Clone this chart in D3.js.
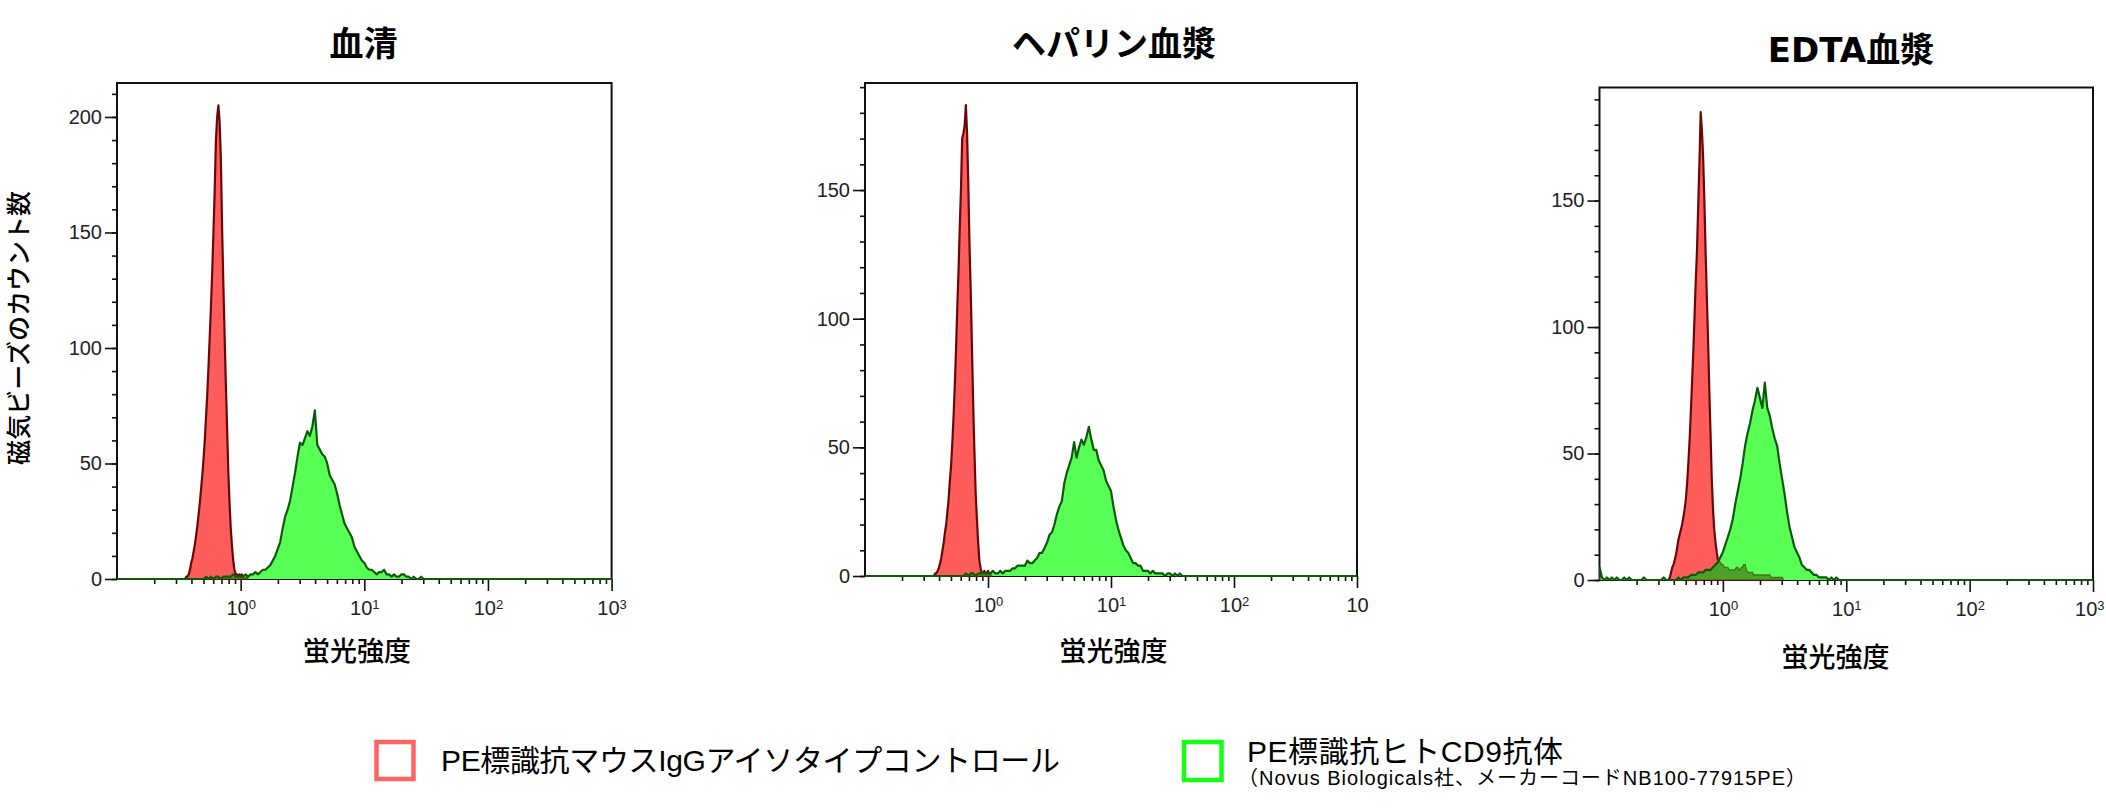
<!DOCTYPE html>
<html>
<head>
<meta charset="utf-8">
<script src="https://cdn.jsdelivr.net/npm/d3@7"></script>
<style>
body { margin: 0; background: #fff; }
svg { display: block; }
</style>
</head>
<body>
<script>
// panel titles and axis settings
var titles = ['血清', 'ヘパリン血漿', 'EDTA血漿'];
var yMax = [214.7, 191.6, 194.7];
var yLabelTicks = [[0, 50, 100, 150, 200], [0, 50, 100, 150], [0, 50, 100, 150]];
var xMajor = [1, 10, 100, 1000];
var xExp = [['0', '1', '2', '3'], ['0', '1', '2', ''], ['0', '1', '2', '3']];
var legendLabels = ['PE標識抗マウスIgGアイソタイプコントロール', 'PE標識抗ヒトCD9抗体'];
var legendNote = '（Novus Biologicals社、メーカーコードNB100-77915PE）';

// histogram channels: log10 of the first bin and bin width (decades)
var isoStep = 0.01;
var cd9Step = 0.02;
var isoStart = [-0.46, -0.45, -0.44];
var cd9Start = [-0.30, -0.20, -1.00];

// isotype control counts
var serumIso = [0, 0, 1, 1, 2, 4, 7, 9, 12, 15,
    19, 23, 28, 33, 39, 45, 52, 60, 70, 80,
    92, 105, 118, 133, 150, 168, 190, 200, 205, 198,
    182, 152, 128, 106, 85, 66, 47, 33, 22, 14,
    8, 4, 2, 2, 1, 2, 1, 2, 1, 1,
    0, 1, 0];
var heparinIso = [0, 0, 1, 1, 2, 3, 5, 7, 10, 13,
    17, 20, 25, 30, 37, 43, 52, 62, 74, 88,
    104, 118, 135, 150, 170, 172, 175, 183, 172, 152,
    128, 110, 88, 66, 48, 32, 22, 13, 6, 3,
    1, 1, 2, 1, 1, 2, 1, 1, 0];
var edtaIso = [0, 1, 3, 5, 6, 8, 10, 13, 16, 18,
    20, 22, 25, 28, 32, 38, 46, 55, 66, 78,
    90, 104, 118, 130, 148, 165, 185, 178, 167, 150,
    130, 112, 95, 75, 58, 40, 28, 20, 15, 11,
    8, 7, 7, 6, 6, 5, 5, 5, 5, 4,
    4, 4, 4, 4, 4, 5, 5, 4, 4, 5,
    5, 6, 6, 4, 3, 3, 3, 3, 3, 2,
    2, 2, 2, 2, 2, 2, 2, 2, 2, 2,
    2, 2, 2, 1, 1, 1, 1, 1, 1, 1,
    1, 1, 1, 0];

// anti-CD9 counts
var serumCd9 = [0, 1, 0, 1, 0, 1, 1, 0, 1, 1, 1, 1, 2, 1, 1,
    1, 1, 2, 1, 2, 2, 3, 2, 3, 4,
    4, 5, 6, 8, 10, 13, 16, 22, 27, 30,
    34, 40, 46, 53, 59, 58, 61, 64, 62, 66,
    73, 58, 56, 54, 53, 50, 45, 43, 41, 37,
    32, 28, 24, 22, 20, 18, 14, 12, 10, 8,
    7, 5, 4, 4, 3, 2, 3, 3, 4, 2,
    2, 1, 2, 1, 1, 2, 2, 1, 1, 0,
    1, 0, 0, 1, 0];
var heparinCd9 = [0, 1, 0, 1, 1, 0, 1, 1, 1, 1,
    1, 1, 2, 1, 1, 2, 1, 2, 2, 2,
    3, 3, 4, 4, 4, 4, 6, 5, 5, 6,
    7, 9, 9, 11, 13, 16, 17, 20, 24, 27,
    29, 36, 40, 43, 46, 52, 46, 50, 53, 51,
    54, 58, 53, 49, 49, 45, 43, 41, 37, 35,
    33, 27, 22, 18, 15, 12, 10, 9, 7, 5,
    5, 4, 4, 2, 2, 2, 1, 2, 1, 1,
    1, 1, 0, 1, 1, 0, 1, 0, 1, 0,
    0];
var edtaCd9 = [5, 1, 0, 1, 0, 1, 0, 1, 0, 0,
    1, 0, 1, 0, 0, 0, 0, 0, 1, 0,
    0, 0, 0, 0, 0, 0, 1, 0, 0, 0,
    0, 0, 1, 0, 1, 1, 1, 2, 2, 2,
    3, 3, 3, 4, 4, 4, 5, 6, 7, 9,
    11, 14, 17, 20, 24, 30, 35, 40, 46, 53,
    58, 62, 67, 71, 76, 72, 68, 78, 68, 65,
    60, 56, 53, 46, 40, 34, 27, 21, 17, 13,
    11, 9, 6, 5, 4, 4, 3, 2, 2, 1,
    1, 1, 1, 0, 1, 0, 1, 0, 0];

var isoSeries = [serumIso, heparinIso, edtaIso];
var cd9Series = [serumCd9, heparinCd9, edtaCd9];

// layout
var frames = [
    {left: 117, top: 83, right: 611.6, bottom: 579, tx: 363.5, ty: 56, ax: 357, ay: 661},
    {left: 865, top: 83, right: 1357, bottom: 576, tx: 1114, ty: 56, ax: 1113.5, ay: 661},
    {left: 1599.5, top: 87.5, right: 2093, bottom: 580, tx: 1851, ty: 62, ax: 1835.5, ay: 667}
];

var redFill = '#ff5c5c', redLine = '#6a0808';
var greenFill = '#58ff55', greenLine = '#0d5a0d', overlapFill = '#4fa02b';
var latin = '"Liberation Sans", Arial, "Noto Sans CJK JP", sans-serif';
var jp = '"Noto Sans CJK JP", "Liberation Sans", sans-serif';

var svg = d3.select('body').append('svg')
    .attr('width', 2106)
    .attr('height', 810);

function toPoints(counts, start, step) {
    return counts.map(function(c, i) {
        return {v: Math.pow(10, start + i * step), c: c};
    });
}

frames.forEach(function(f, i) {
    var x = d3.scaleLog().domain([0.1, 1000]).range([f.left, f.right]);
    var y = d3.scaleLinear().domain([0, yMax[i]]).range([f.bottom, f.top]);
    var g = svg.append('g');

    // title
    g.append('text')
        .attr('x', f.tx).attr('y', f.ty)
        .attr('text-anchor', 'middle')
        .style('font-family', '"DejaVu Sans", "Noto Sans CJK JP", sans-serif')
        .style('font-size', '34px')
        .style('font-weight', 'bold')
        .text(titles[i]);

    // x axis title
    g.append('text')
        .attr('x', f.ax).attr('y', f.ay)
        .attr('text-anchor', 'middle')
        .style('font-family', jp)
        .style('font-size', '27px')
        .style('font-weight', 500)
        .text('蛍光強度');

    // histograms
    var clipId = 'plot' + i;
    svg.append('clipPath').attr('id', clipId)
        .append('rect')
        .attr('x', f.left).attr('y', f.top - 2)
        .attr('width', f.right - f.left + 1).attr('height', f.bottom - f.top + 3);

    var iso = toPoints(isoSeries[i], isoStart[i], isoStep);
    var cd9 = [{v: 0.1, c: 0}].concat(toPoints(cd9Series[i], cd9Start[i], cd9Step), [{v: 1000, c: 0}]);

    var area = d3.area()
        .x(function(d) { return x(d.v); })
        .y0(y(0))
        .y1(function(d) { return y(d.c); });
    var line = d3.line()
        .x(function(d) { return x(d.v); })
        .y(function(d) { return y(d.c); });

    var hist = g.append('g').attr('clip-path', 'url(#' + clipId + ')');

    hist.append('path')
        .attr('d', area(iso))
        .attr('fill', redFill)
        .attr('stroke', redLine)
        .attr('stroke-width', 2.2)
        .attr('stroke-linejoin', 'round');

    hist.append('path')
        .attr('d', area(cd9))
        .attr('fill', greenFill);

    // where the two histograms overlap
    var ovId = 'ov' + i;
    svg.append('clipPath').attr('id', ovId)
        .append('path').attr('d', area(cd9));
    hist.append('g').attr('clip-path', 'url(#' + ovId + ')')
        .append('path')
        .attr('d', area(iso))
        .attr('fill', overlapFill)
        .attr('stroke', '#3b7518')
        .attr('stroke-width', 1.4);

    // axes
    var yMinor = d3.range(0, yMax[i], 10);
    g.append('g')
        .attr('transform', 'translate(' + f.left + ',0)')
        .call(d3.axisLeft(y).tickValues(yMinor).tickSize(5).tickFormat(''))
        .call(function(s) { s.select('.domain').remove(); });
    var yAx = g.append('g')
        .attr('transform', 'translate(' + f.left + ',0)')
        .call(d3.axisLeft(y).tickValues(yLabelTicks[i]).tickSize(12).tickPadding(3));
    yAx.select('.domain').remove();

    var xMinor = [];
    [0.1, 1, 10, 100].forEach(function(d) {
        d3.range(2, 10).forEach(function(k) { xMinor.push(k * d); });
    });
    g.append('g')
        .attr('transform', 'translate(0,' + f.bottom + ')')
        .call(d3.axisBottom(x).tickValues(xMinor).tickSize(5).tickFormat(''))
        .call(function(s) { s.select('.domain').remove(); });
    var xAx = g.append('g')
        .attr('transform', 'translate(0,' + f.bottom + ')')
        .call(d3.axisBottom(x).tickValues(xMajor).tickSize(12).tickPadding(10).tickFormat(''));
    xAx.select('.domain').remove();
    xAx.selectAll('.tick text').each(function(d, j) {
        var t = d3.select(this);
        t.append('tspan').text('10');
        if (xExp[i][j]) {
            t.append('tspan').attr('dy', '-0.5em').style('font-size', '13px').text(xExp[i][j]);
        }
        // keep the last label inside the page
        if (x(d) + 16 > 2104) t.attr('text-anchor', 'end').attr('x', 2104 - x(d));
    });

    [yAx, xAx].forEach(function(a) {
        a.selectAll('text')
            .style('font-family', latin)
            .style('font-size', '20px')
            .attr('fill', '#222');
    });
    g.selectAll('.tick line').attr('stroke', '#111').attr('stroke-width', 1.6);

    // frame
    g.append('rect')
        .attr('x', f.left).attr('y', f.top)
        .attr('width', f.right - f.left).attr('height', f.bottom - f.top)
        .attr('fill', 'none')
        .attr('stroke', '#111')
        .attr('stroke-width', 2);

    // outline of the CD9 histogram drawn last, it runs along the baseline
    hist.append('path')
        .attr('d', line(cd9))
        .attr('fill', 'none')
        .attr('stroke', greenLine)
        .attr('stroke-width', 2.2)
        .attr('stroke-linejoin', 'round');
    hist.raise();
});

// y axis title
svg.append('text')
    .attr('transform', 'translate(17,328) rotate(-90)')
    .attr('text-anchor', 'middle')
    .attr('dominant-baseline', 'central')
    .style('font-family', jp)
    .style('font-size', '25px')
    .style('font-weight', 500)
    .text('磁気ビーズのカウント数');

// legend
var legend = svg.append('g').style('font-family', latin);
legend.append('rect')
    .attr('x', 376.5).attr('y', 742)
    .attr('width', 37).attr('height', 37)
    .attr('fill', 'none')
    .attr('stroke', '#ff6464')
    .attr('stroke-width', 4.5);
legend.append('text')
    .attr('x', 441).attr('y', 771)
    .attr('textLength', 619)
    .style('font-size', '30px')
    .text(legendLabels[0]);
legend.append('rect')
    .attr('x', 1184).attr('y', 742)
    .attr('width', 37.5).attr('height', 38)
    .attr('fill', 'none')
    .attr('stroke', '#16ff16')
    .attr('stroke-width', 4.5);
legend.append('text')
    .attr('x', 1247).attr('y', 762)
    .attr('textLength', 316)
    .style('font-size', '30px')
    .text(legendLabels[1]);
legend.append('text')
    .attr('x', 1238).attr('y', 785)
    .attr('textLength', 568)
    .style('font-size', '20px')
    .text(legendNote);
</script>
</body>
</html>
